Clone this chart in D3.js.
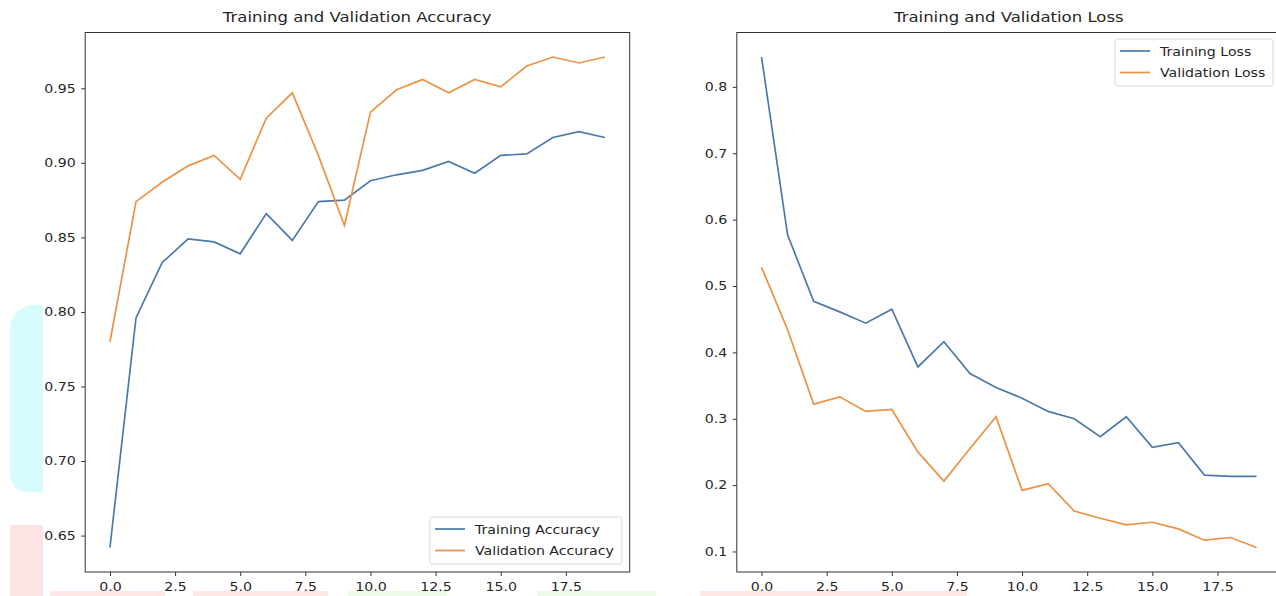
<!DOCTYPE html>
<html lang="en">

<head>
  <meta charset="UTF-8">
  <title>training curves</title>
  <script src="https://d3js.org/d3.v7.min.js"></script>
  <style>
    body { margin: 0; background: #fff; }
    svg text { font-family: "DejaVu Sans", sans-serif; fill: #262626; }
  </style>
</head>

<body>

  <div id="chart"></div>

  <script>
    var epochs = d3.range(20);
    var trainAcc = [0.642, 0.796, 0.833, 0.849, 0.847, 0.839, 0.866, 0.848, 0.874, 0.875,
                    0.888, 0.892, 0.895, 0.901, 0.893, 0.905, 0.906, 0.917, 0.921, 0.917];
    var valAcc = [0.780, 0.874, 0.887, 0.898, 0.905, 0.889, 0.930, 0.947, 0.905, 0.858,
                  0.934, 0.949, 0.956, 0.947, 0.956, 0.951, 0.965, 0.971, 0.967, 0.971];
    var trainLoss = [0.845, 0.577, 0.477, 0.461, 0.444, 0.465, 0.378, 0.416, 0.368, 0.347,
                     0.331, 0.311, 0.300, 0.273, 0.303, 0.257, 0.264, 0.215, 0.213, 0.213];
    var valLoss = [0.528, 0.434, 0.322, 0.333, 0.311, 0.314, 0.250, 0.206, 0.255, 0.303,
                   0.192, 0.202, 0.161, 0.150, 0.140, 0.144, 0.134, 0.117, 0.121, 0.106];
    var xTicks = [0, 2.5, 5, 7.5, 10, 12.5, 15, 17.5];
    var accTicks = [0.65, 0.70, 0.75, 0.80, 0.85, 0.90, 0.95];
    var lossTicks = [0.1, 0.2, 0.3, 0.4, 0.5, 0.6, 0.7, 0.8];

    var blue = "#4a7aab";
    var orange = "#ea9245";
    var stretch = "scale(1.18,1)"; // the screenshot text is a bit wide

    var width = 1276, height = 596;
    var svg = d3.select("#chart").append("svg")
      .attr("width", width)
      .attr("height", height);

    // faint blotches from the screenshot
    svg.append("path").attr("fill", "#d6fcfc")
      .attr("d", "M43,305 L43,492 L28,492 Q10,492 10,470 L10,330 Q10,310 30,305 Z");
    svg.append("rect").attr("x", 10).attr("y", 525).attr("width", 33).attr("height", 71).attr("fill", "#fde4e4");
    [[50, 115, "#fde6e6"], [193, 135, "#fde6e6"], [348, 99, "#eef9e8"], [537, 119, "#eef9e8"], [700, 267, "#fde6e6"]]
      .forEach(function (s) {
        svg.append("rect").attr("x", s[0]).attr("y", 591).attr("width", s[1]).attr("height", 5).attr("fill", s[2]);
      });

    function margin(lo, hi) {
      var d = (hi - lo) * 0.05;
      return [lo - d, hi + d];
    }

    function panel(opt) {
      var g = svg.append("g");
      var x = d3.scaleLinear().domain(margin(0, 19)).range([opt.left, opt.left + 544.5]);
      var all = opt.series[0].values.concat(opt.series[1].values);
      var y = d3.scaleLinear().domain(margin(d3.min(all), d3.max(all))).range([572, 32.5]);

      g.append("text")
        .attr("transform", "translate(" + (opt.left + 272) + ",22) " + stretch)
        .attr("text-anchor", "middle")
        .style("font-size", "14px")
        .text(opt.title);

      var line = d3.line()
        .x(function (d, i) { return x(epochs[i]); })
        .y(function (d) { return y(d); });

      opt.series.forEach(function (s) {
        g.append("path")
          .attr("d", line(s.values))
          .attr("fill", "none")
          .attr("stroke", s.color)
          .attr("stroke-width", 1.7);
      });

      var xAxis = g.append("g")
        .attr("transform", "translate(0,572)")
        .call(d3.axisBottom(x).tickValues(xTicks).tickFormat(d3.format(".1f")).tickSize(4).tickPadding(6));
      var yAxis = g.append("g")
        .attr("transform", "translate(" + opt.left + ",0)")
        .call(d3.axisLeft(y).tickValues(opt.yTicks).tickFormat(d3.format(opt.yFormat)).tickSize(4).tickPadding(4));
      [xAxis, yAxis].forEach(function (a) {
        a.select(".domain").remove();
        a.selectAll("line").attr("stroke", "#333");
        a.selectAll("text").style("font-size", "12px").attr("fill", "#262626").attr("transform", stretch);
      });

      g.append("rect")
        .attr("x", opt.left)
        .attr("y", 32.5)
        .attr("width", 544.5)
        .attr("height", 539.5)
        .attr("fill", "none")
        .attr("stroke", "#333")
        .attr("stroke-width", 1);

      var lg = g.append("g").attr("transform", "translate(" + opt.legend[0] + "," + opt.legend[1] + ")");
      lg.append("rect")
        .attr("width", opt.legend[2])
        .attr("height", 47)
        .attr("rx", 2.5)
        .attr("fill", "#fff")
        .attr("fill-opacity", 0.8)
        .attr("stroke", "#d9d9d9");
      opt.series.forEach(function (s, i) {
        lg.append("line")
          .attr("x1", 5).attr("x2", 35)
          .attr("y1", 12 + i * 21.5).attr("y2", 12 + i * 21.5)
          .attr("stroke", s.color)
          .attr("stroke-width", 1.7);
        lg.append("text")
          .attr("transform", "translate(45," + (16.5 + i * 21.5) + ") " + stretch)
          .style("font-size", "12px")
          .text(s.name);
      });
    }

    panel({
      left: 85.2,
      title: "Training and Validation Accuracy",
      yTicks: accTicks,
      yFormat: ".2f",
      legend: [430, 517, 192],
      series: [
        { name: "Training Accuracy", values: trainAcc, color: blue },
        { name: "Validation Accuracy", values: valAcc, color: orange }
      ]
    });

    panel({
      left: 736.8,
      title: "Training and Validation Loss",
      yTicks: lossTicks,
      yFormat: ".1f",
      legend: [1115, 39, 158],
      series: [
        { name: "Training Loss", values: trainLoss, color: blue },
        { name: "Validation Loss", values: valLoss, color: orange }
      ]
    });
  </script>

</body>

</html>
